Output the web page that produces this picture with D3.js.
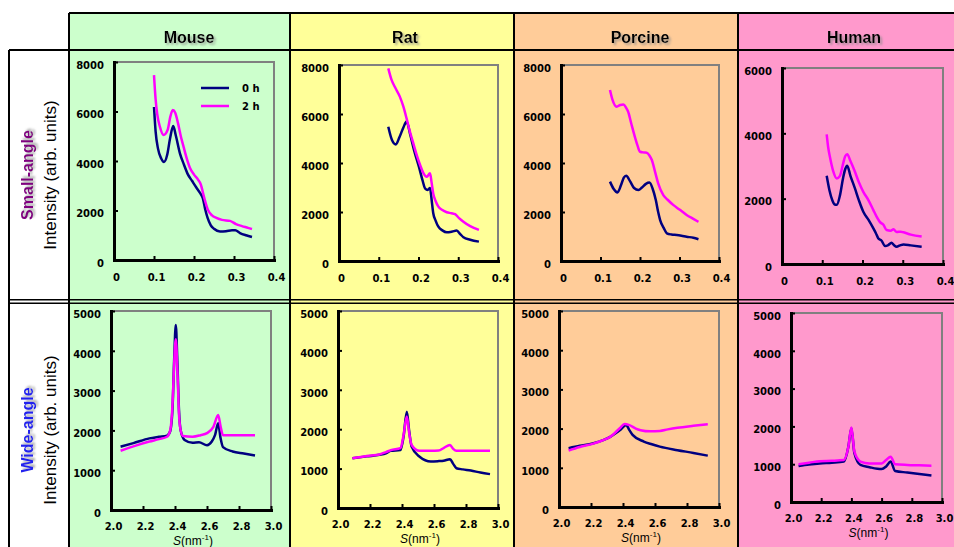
<!DOCTYPE html>
<html>
<head>
<meta charset="utf-8">
<script src="https://cdn.jsdelivr.net/npm/d3@7"></script>
<style>
body { margin: 0; background: #fff; }
text { font-family: "DejaVu Sans", sans-serif; }
</style>
</head>
<body>
<div id="chart"></div>
<script>
// species columns and row labels
var species = ["Mouse", "Rat", "Porcine", "Human"];
var rows = ["Small-angle", "Wide-angle"];
var seriesNames = ["0 h", "2 h"];

// tick values
var smallXTicks = [0, 0.1, 0.2, 0.3, 0.4];
var wideXTicks = [2.0, 2.2, 2.4, 2.6, 2.8, 3.0];
var smallYTicks = [0, 2000, 4000, 6000, 8000];
var humanSmallYTicks = [0, 2000, 4000, 6000];
var wideYTicks = [0, 1000, 2000, 3000, 4000, 5000];

// small-angle data  [S (nm-1), intensity]
var mouseSmall0h = [[0.100,6180],[0.104,5200],[0.110,4500],[0.118,4100],[0.125,3960],[0.133,4250],[0.140,4900],[0.148,5410],[0.155,5000],[0.165,4300],[0.175,3850],[0.185,3450],[0.195,3200],[0.205,2950],[0.215,2710],[0.222,2500],[0.228,2050],[0.234,1700],[0.242,1400],[0.250,1260],[0.265,1150],[0.280,1160],[0.295,1200],[0.303,1200],[0.315,1090],[0.330,1000],[0.345,930]];
var mouseSmall2h = [[0.100,7470],[0.104,6500],[0.108,5900],[0.115,5370],[0.124,5050],[0.134,5250],[0.141,5800],[0.147,6060],[0.153,5950],[0.160,5530],[0.167,5000],[0.174,4570],[0.182,4100],[0.190,3720],[0.200,3450],[0.210,3250],[0.217,3050],[0.225,2550],[0.235,2020],[0.245,1800],[0.256,1700],[0.270,1620],[0.290,1580],[0.305,1450],[0.320,1370],[0.335,1300],[0.345,1250]];
var ratSmall0h = [[0.124,5480],[0.133,4950],[0.143,4760],[0.152,5050],[0.162,5450],[0.170,5690],[0.180,5100],[0.190,4450],[0.201,3850],[0.210,3300],[0.217,2950],[0.223,2900],[0.229,2980],[0.233,2500],[0.237,1960],[0.243,1650],[0.250,1400],[0.260,1250],[0.271,1170],[0.285,1200],[0.296,1240],[0.305,1100],[0.313,970],[0.330,870],[0.352,790]];
var ratSmall2h = [[0.124,7860],[0.132,7400],[0.141,7090],[0.153,6710],[0.162,6300],[0.170,5820],[0.178,5300],[0.187,4800],[0.196,4300],[0.204,3920],[0.212,3600],[0.221,3440],[0.229,3580],[0.233,3200],[0.237,2760],[0.243,2450],[0.250,2220],[0.260,2080],[0.271,1990],[0.283,1950],[0.292,1910],[0.302,1750],[0.313,1600],[0.330,1420],[0.352,1270]];
var porcineSmall0h = [[0.124,3240],[0.133,2950],[0.143,2800],[0.152,3100],[0.159,3400],[0.165,3480],[0.175,3250],[0.185,2980],[0.196,2900],[0.205,3000],[0.215,3150],[0.224,3200],[0.232,2950],[0.240,2490],[0.246,2000],[0.251,1670],[0.260,1350],[0.268,1130],[0.280,1080],[0.293,1060],[0.305,1030],[0.318,990],[0.335,950],[0.348,890]];
var porcineSmall2h = [[0.124,6980],[0.130,6600],[0.141,6300],[0.150,6370],[0.158,6390],[0.165,6250],[0.170,6090],[0.178,5600],[0.187,5070],[0.194,4700],[0.200,4460],[0.210,4430],[0.217,4420],[0.224,4300],[0.230,4120],[0.238,3650],[0.246,3170],[0.259,2690],[0.270,2500],[0.284,2290],[0.300,2100],[0.318,1880],[0.335,1720],[0.348,1600]];
var humanSmall0h = [[0.111,2700],[0.118,2250],[0.125,1950],[0.131,1820],[0.136,1810],[0.144,2100],[0.152,2650],[0.157,2900],[0.162,3010],[0.170,2700],[0.181,2320],[0.191,1950],[0.202,1600],[0.215,1350],[0.227,1090],[0.233,950],[0.239,790],[0.247,720],[0.256,550],[0.264,580],[0.272,650],[0.278,580],[0.285,530],[0.293,570],[0.302,600],[0.320,570],[0.347,530]];
var humanSmall2h = [[0.111,3970],[0.115,3550],[0.119,3280],[0.127,2850],[0.136,2620],[0.144,2700],[0.152,3080],[0.157,3300],[0.162,3360],[0.170,3150],[0.181,2830],[0.191,2500],[0.202,2210],[0.215,1950],[0.227,1650],[0.235,1450],[0.243,1290],[0.252,1200],[0.260,1040],[0.270,1020],[0.277,1060],[0.285,980],[0.295,990],[0.302,970],[0.320,900],[0.347,840]];

// wide-angle data  [S (nm-1), intensity]
var mouseWide0h = [[2.06,1590],[2.14,1680],[2.24,1800],[2.30,1840],[2.35,1870],[2.37,1980],[2.385,2600],[2.395,3800],[2.405,4650],[2.415,3700],[2.425,2500],[2.435,2010],[2.46,1760],[2.51,1690],[2.55,1700],[2.60,1630],[2.63,1720],[2.65,1880],[2.67,2180],[2.685,1800],[2.70,1580],[2.76,1470],[2.83,1420],[2.90,1370]];
var mouseWide2h = [[2.06,1490],[2.14,1600],[2.24,1720],[2.30,1780],[2.35,1840],[2.37,2000],[2.385,2700],[2.395,3700],[2.405,4290],[2.415,3500],[2.425,2400],[2.435,2010],[2.45,1860],[2.51,1840],[2.56,1880],[2.60,1930],[2.64,2090],[2.67,2390],[2.685,2100],[2.70,1880],[2.76,1880],[2.83,1880],[2.90,1880]];
var ratWide0h = [[2.09,1260],[2.18,1310],[2.26,1350],[2.30,1390],[2.33,1450],[2.39,1470],[2.41,1820],[2.43,2440],[2.445,1950],[2.46,1560],[2.51,1300],[2.58,1180],[2.63,1190],[2.66,1200],[2.70,1240],[2.72,1120],[2.74,1010],[2.78,980],[2.83,950],[2.89,900],[2.95,860]];
var ratWide2h = [[2.09,1260],[2.18,1320],[2.26,1360],[2.30,1420],[2.33,1470],[2.39,1520],[2.41,1850],[2.43,2320],[2.445,1900],[2.46,1600],[2.51,1450],[2.58,1450],[2.63,1460],[2.66,1520],[2.70,1600],[2.72,1500],[2.74,1450],[2.83,1450],[2.95,1450]];
var porcineWide0h = [[2.06,1500],[2.13,1560],[2.21,1620],[2.28,1710],[2.32,1790],[2.38,1960],[2.42,2090],[2.44,1960],[2.46,1840],[2.53,1670],[2.58,1600],[2.63,1540],[2.74,1450],[2.84,1380],[2.93,1310]];
var porcineWide2h = [[2.06,1440],[2.13,1530],[2.21,1610],[2.28,1710],[2.32,1790],[2.38,2010],[2.41,2120],[2.44,2090],[2.48,2000],[2.51,1960],[2.57,1930],[2.63,1940],[2.68,1980],[2.74,2020],[2.84,2070],[2.93,2110]];
var humanWide0h = [[2.05,950],[2.12,990],[2.19,1020],[2.27,1040],[2.35,1070],[2.38,1460],[2.40,1950],[2.42,1290],[2.46,980],[2.52,920],[2.60,870],[2.63,940],[2.66,1070],[2.69,820],[2.77,780],[2.85,740],[2.93,700]];
var humanWide2h = [[2.05,1000],[2.12,1040],[2.19,1080],[2.27,1090],[2.35,1110],[2.38,1460],[2.40,1970],[2.42,1330],[2.46,1070],[2.52,1020],[2.60,1020],[2.63,1110],[2.66,1200],[2.69,1000],[2.77,980],[2.85,970],[2.93,960]];

var svgWidth = 954;
var svgHeight = 547;

var svg = d3.select("#chart")
    .append("svg")
    .attr("width", svgWidth)
    .attr("height", svgHeight);

var defs = svg.append("defs");
var shadow = defs.append("filter").attr("id", "shadow")
    .attr("x", "-10%").attr("y", "-30%").attr("width", "130%").attr("height", "170%");
shadow.append("feDropShadow")
    .attr("dx", 2).attr("dy", 2).attr("stdDeviation", 1.2)
    .attr("flood-color", "#888").attr("flood-opacity", 0.7);

// table layout
var colX = [69, 290, 514, 738, 962];
var colFill = ["#ccffcc", "#ffff99", "#ffcc99", "#ff99cc"];
var headerX = [189, 405, 640, 854];
var headerTop = 13, headerBottom = 50, rowSplit = 301.5;

species.forEach(function (name, i) {
    svg.append("rect")
        .attr("x", colX[i]).attr("y", headerTop)
        .attr("width", colX[i + 1] - colX[i]).attr("height", svgHeight - headerTop)
        .attr("fill", colFill[i]);
    svg.append("text")
        .attr("x", headerX[i])
        .attr("y", 43)
        .attr("text-anchor", "middle")
        .style("font-family", "'Liberation Sans', Arial, sans-serif")
        .style("font-weight", "bold")
        .style("font-size", "16px")
        .attr("filter", "url(#shadow)")
        .text(name);
});

// grid lines
var grid = svg.append("g").attr("stroke", "#000").attr("fill", "none");
grid.append("line").attr("x1", 69).attr("x2", svgWidth).attr("y1", headerTop).attr("y2", headerTop).attr("stroke-width", 2);
grid.append("line").attr("x1", 9).attr("x2", svgWidth).attr("y1", headerBottom).attr("y2", headerBottom).attr("stroke-width", 2);
grid.append("line").attr("x1", 9).attr("x2", svgWidth).attr("y1", rowSplit - 1.8).attr("y2", rowSplit - 1.8).attr("stroke-width", 1.5);
grid.append("line").attr("x1", 9).attr("x2", svgWidth).attr("y1", rowSplit + 1.8).attr("y2", rowSplit + 1.8).attr("stroke-width", 1.5);
grid.append("line").attr("x1", 9).attr("x2", 9).attr("y1", headerBottom).attr("y2", svgHeight).attr("stroke-width", 2);
colX.slice(0, 4).forEach(function (x) {
    grid.append("line").attr("x1", x).attr("x2", x).attr("y1", headerTop).attr("y2", svgHeight).attr("stroke-width", 2);
});

// row labels
var rowLabelY = [175, 430];
var rowLabelColor = ["#800080", "#2222ee"];
rows.forEach(function (name, i) {
    svg.append("text")
        .attr("transform", `translate(33, ${rowLabelY[i]}) rotate(-90)`)
        .attr("text-anchor", "middle")
        .style("font-family", "'Liberation Sans', Arial, sans-serif")
        .style("font-weight", "bold")
        .style("font-size", "16px")
        .attr("fill", rowLabelColor[i])
        .attr("filter", "url(#shadow)")
        .text(name);
    svg.append("text")
        .attr("transform", `translate(56, ${rowLabelY[i]}) rotate(-90)`)
        .attr("text-anchor", "middle")
        .style("font-family", "'Liberation Sans', Arial, sans-serif")
        .style("font-size", "17px")
        .attr("fill", "#000")
        .text("Intensity (arb. units)");
});

// panels
var panels = [
    { box: [114, 62, 274, 260], xd: [0, 0.4], xt: smallXTicks, yd: [0, 8000], yt: smallYTicks, s0: mouseSmall0h, s2: mouseSmall2h, legend: true },
    { box: [339, 65, 498, 261], xd: [0, 0.4], xt: smallXTicks, yd: [0, 8000], yt: smallYTicks, s0: ratSmall0h, s2: ratSmall2h },
    { box: [561, 65, 719, 261], xd: [0, 0.4], xt: smallXTicks, yd: [0, 8000], yt: smallYTicks, s0: porcineSmall0h, s2: porcineSmall2h },
    { box: [782, 68, 943, 264], xd: [0, 0.4], xt: smallXTicks, yd: [0, 6000], yt: humanSmallYTicks, s0: humanSmall0h, s2: humanSmall2h },
    { box: [111, 311, 271, 510], xd: [2, 3], xt: wideXTicks, yd: [0, 5000], yt: wideYTicks, s0: mouseWide0h, s2: mouseWide2h, wide: true },
    { box: [338, 311, 498, 508], xd: [2, 3], xt: wideXTicks, yd: [0, 5000], yt: wideYTicks, s0: ratWide0h, s2: ratWide2h, wide: true },
    { box: [559, 311, 719, 507], xd: [2, 3], xt: wideXTicks, yd: [0, 5000], yt: wideYTicks, s0: porcineWide0h, s2: porcineWide2h, wide: true },
    { box: [791, 313, 942, 502], xd: [2, 3], xt: wideXTicks, yd: [0, 5000], yt: wideYTicks, s0: humanWide0h, s2: humanWide2h, wide: true }
];

var color0h = "#000080";
var color2h = "#ff00ff";

panels.forEach(function (p) {
    var l = p.box[0], t = p.box[1], r = p.box[2], b = p.box[3];
    var x = d3.scaleLinear().domain(p.xd).range([l, r]);
    var y = d3.scaleLinear().domain(p.yd).range([b, t]);
    var g = svg.append("g");

    // grey frame on top and right
    g.append("path")
        .attr("d", `M${l},${t}H${r}V${b}`)
        .attr("fill", "none")
        .attr("stroke", "#808080")
        .attr("stroke-width", 2);

    var fmtX = p.wide ? (d => d.toFixed(1)) : (d => d === 0 ? "0" : d.toFixed(1));

    var xAxis = g.append("g")
        .attr("transform", `translate(0, ${b})`)
        .call(d3.axisBottom(x).tickValues(p.xt).tickFormat(fmtX).tickSize(-4).tickSizeOuter(0).tickPadding(p.wide ? 13 : 14));
    var yAxis = g.append("g")
        .attr("transform", `translate(${l}, 0)`)
        .call(d3.axisLeft(y).tickValues(p.yt).tickFormat(d3.format("d")).tickSize(-4).tickSizeOuter(0).tickPadding(10));

    [xAxis, yAxis].forEach(function (ax) {
        ax.select(".domain").attr("stroke", "#000").attr("stroke-width", 3).attr("stroke-linecap", "square");
        ax.selectAll(".tick line").attr("stroke", "#000").attr("stroke-width", 2);
        ax.selectAll("text")
            .style("font-family", "'DejaVu Sans', Verdana, sans-serif")
            .style("font-weight", "bold")
            .style("font-size", "10px")
            .attr("fill", "#000");
    });
    xAxis.selectAll("text").attr("x", 2);
    yAxis.selectAll("text").attr("y", 3);

    var line = d3.line()
        .x(d => x(d[0]))
        .y(d => y(d[1]))
        .curve(d3.curveMonotoneX);

    g.append("path").datum(p.s0)
        .attr("d", line).attr("fill", "none")
        .attr("stroke", color0h).attr("stroke-width", 2.5).attr("stroke-linejoin", "round");
    g.append("path").datum(p.s2)
        .attr("d", line).attr("fill", "none")
        .attr("stroke", color2h).attr("stroke-width", 2.5).attr("stroke-linejoin", "round");

    if (p.wide) {
        var lbl = g.append("text")
            .attr("x", (l + r) / 2 + 2)
            .attr("y", b + 35)
            .attr("text-anchor", "middle")
            .style("font-family", "'Liberation Sans', Arial, sans-serif")
            .style("font-size", "12px");
        lbl.append("tspan").style("font-style", "italic").text("S");
        lbl.append("tspan").text("(nm");
        lbl.append("tspan").attr("dy", -5).style("font-size", "8px").text("-1");
        lbl.append("tspan").attr("dy", 5).text(")");
    }

    if (p.legend) {
        var leg = g.append("g");
        [color0h, color2h].forEach(function (c, i) {
            leg.append("line")
                .attr("x1", 201).attr("x2", 229)
                .attr("y1", 88 + i * 18).attr("y2", 88 + i * 18)
                .attr("stroke", c).attr("stroke-width", 2.5);
            leg.append("text")
                .attr("x", 242).attr("y", 88 + i * 18 + 4)
                .style("font-family", "'DejaVu Sans', Verdana, sans-serif")
                .style("font-weight", "bold")
                .style("font-size", "10px")
                .text(seriesNames[i]);
        });
    }
});
</script>
</body>
</html>
